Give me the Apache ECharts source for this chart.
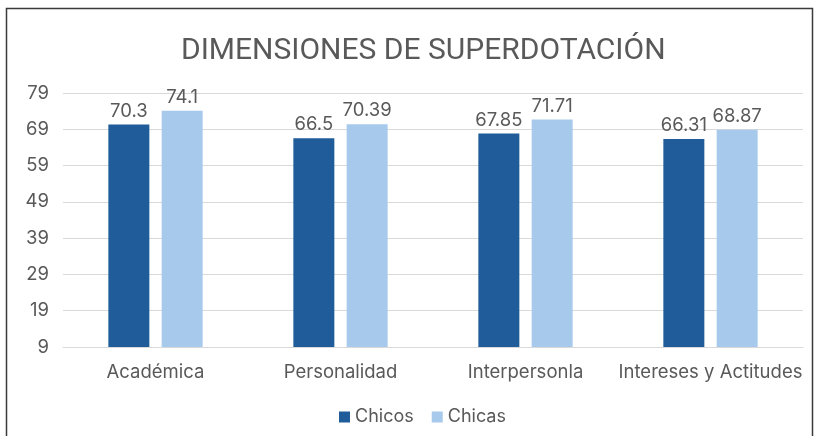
<!DOCTYPE html>
<html><head><meta charset="utf-8">
<script src="https://cdn.jsdelivr.net/npm/echarts@6/dist/echarts.min.js"></script>
<style>html,body{margin:0;padding:0;background:#fff}#c{width:816px;height:436px}</style>
</head><body><div id="c"></div>
<script>
const categories = ['Académica', 'Personalidad', 'Interpersonla', 'Intereses y Actitudes'];
const chicos = [70.3, 66.5, 67.85, 66.31];
const chicas = [74.1, 70.39, 71.71, 68.87];
const seriesNames = ['Chicos', 'Chicas'];
const yMin = 9, yMax = 79, yStep = 10;

const chart = echarts.init(document.getElementById('c'), null, {renderer: 'canvas'});
const txt = '#595959';
const ff = 'Inter, Roboto, sans-serif';
const lbl = {show: true, position: 'top', color: txt, fontSize: 18.5, fontFamily: ff, distance: 4};
chart.setOption({
  animation: false,
  graphic: [{type: 'rect', shape: {x: 6.5, y: 8.5, width: 806, height: 440}, style: {fill: 'none', stroke: '#3a3a3a', lineWidth: 1.5}, silent: true}],
  title: {text: 'DIMENSIONES DE SUPERDOTACIÓN', left: 176, top: 31,
    textStyle: {color: txt, fontSize: 30, fontWeight: 'normal', fontFamily: 'Roboto, sans-serif'}},
  legend: {bottom: 5, left: 334, itemWidth: 11, itemHeight: 11, itemGap: 18,
    icon: 'rect', textStyle: {color: txt, fontSize: 18, fontFamily: ff}, data: seriesNames},
  grid: {left: 63, right: 13, top: 93, bottom: 89},
  xAxis: {type: 'category', data: categories,
    axisLine: {lineStyle: {color: '#d9d9d9'}}, axisTick: {show: false},
    axisLabel: {color: txt, fontSize: 18.5, margin: 16, interval: 0, fontFamily: ff}},
  yAxis: {type: 'value', min: yMin, max: yMax, interval: yStep,
    axisLine: {show: false}, axisTick: {show: false},
    splitLine: {lineStyle: {color: '#d9d9d9'}},
    axisLabel: {color: txt, fontSize: 18.5, margin: 14, fontFamily: ff}},
  series: [
    {name: seriesNames[0], type: 'bar', data: chicos, barWidth: 41, barGap: '30%', itemStyle: {color: '#1F5C99'}, label: lbl},
    {name: seriesNames[1], type: 'bar', data: chicas, barWidth: 41, itemStyle: {color: '#A6C9EC'}, label: lbl}
  ]
});
</script></body></html>
